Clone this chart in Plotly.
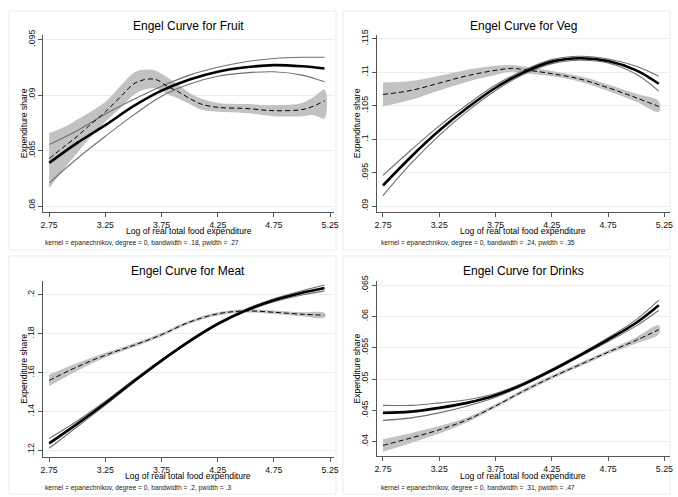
import plotly.graph_objects as go

# ---------------- data ----------------
X_FIT = [2.75, 3.0, 3.25, 3.5, 3.75, 4.0, 4.25, 4.5, 4.75, 5.0, 5.2]
X_TICKS = [2.75, 3.25, 3.75, 4.25, 4.75, 5.25]
X_TICK_TEXT = ["2.75", "3.25", "3.75", "4.25", "4.75", "5.25"]

# Fruit
FRUIT_FIT = [.0839, .0857, .0873, .0890, .0904, .0914, .0921, .0925, .0927, .0926, .0924]
FRUIT_FIT_HI = [.08555, .0868, .0883, .0896, .0908, .0918, .0925, .0930, .0933, .0934, .0934]
FRUIT_FIT_LO = [.0821, .0843, .0863, .0882, .0899, .0910, .0917, .0920, .0921, .0918, .0912]
FRUIT_X_LP = [2.75, 2.9, 3.0, 3.1, 3.25, 3.4, 3.5, 3.6, 3.7, 3.8, 3.9, 4.0, 4.1, 4.25, 4.5, 4.75, 5.0, 5.1, 5.2]
FRUIT_LP = [.0843, .0855, .0863, .0872, .0885, .0900, .0910, .0914, .0914, .0908, .0903, .0897, .0892, .0889, .0888, .0886, .0887, .0890, .0895]
FRUIT_LP_HI = [.0866, .0872, .0878, .0884, .0894, .0910, .0920, .0923, .0922, .0916, .0909, .0902, .0897, .0893, .0892, .0891, .0893, .0898, .0905]
FRUIT_LP_LO = [.0816, .0836, .0848, .0860, .0876, .0890, .0900, .0905, .0906, .0901, .0897, .0892, .0887, .0885, .0884, .0881, .0881, .0882, .0879]
FRUIT_YTICKS = [.08, .085, .09, .095]
FRUIT_YTEXT = [".08", ".085", ".09", ".095"]

# Veg
VEG_FIT = [.0931, .0974, .1013, .1047, .1077, .1100, .1116, .1121, .1117, .1103, .1083]
VEG_FIT_HI = [.0946, .0984, .1020, .1052, .1081, .1103, .1119, .1124, .1120, .1109, .1094]
VEG_FIT_LO = [.0916, .0964, .1006, .1042, .1073, .1097, .1113, .1118, .1114, .1097, .1072]
VEG_X_LP = [2.75, 3.0, 3.25, 3.5, 3.75, 3.9, 4.0, 4.25, 4.5, 4.75, 5.0, 5.2]
VEG_LP = [.1067, .1073, .1084, .1095, .1103, .1106, .1104, .1098, .1090, .1077, .1062, .1049]
VEG_LP_HI = [.1085, .1087, .1095, .1104, .1110, .1111, .1109, .1102, .1094, .1082, .1068, .1057]
VEG_LP_LO = [.1049, .1059, .1073, .1086, .1096, .1101, .1099, .1094, .1086, .1072, .1056, .1041]
VEG_YTICKS = [.09, .095, .1, .105, .11, .115]
VEG_YTEXT = [".09", ".095", ".1", ".105", ".11", ".115"]

# Meat
MEAT_FIT = [.1237, .1337, .1443, .1555, .1662, .1762, .1850, .1920, .1972, .2010, .2035]
MEAT_FIT_HI = [.1262, .1352, .1453, .1562, .1667, .1767, .1855, .1926, .1980, .2021, .2050]
MEAT_FIT_LO = [.1212, .1322, .1433, .1548, .1657, .1757, .1845, .1914, .1964, .1999, .2020]
MEAT_X_LP = [2.75, 3.0, 3.25, 3.5, 3.75, 4.0, 4.25, 4.5, 4.75, 5.0, 5.2]
MEAT_LP = [.1560, .1630, .1690, .1740, .1795, .1860, .1902, .1917, .1910, .1900, .1895]
MEAT_LP_HI = [.1590, .1650, .1702, .1750, .1804, .1868, .1910, .1925, .1919, .1910, .1907]
MEAT_LP_LO = [.1530, .1610, .1678, .1730, .1786, .1852, .1894, .1909, .1901, .1890, .1883]
MEAT_YTICKS = [.12, .14, .16, .18, .2]
MEAT_YTEXT = [".12", ".14", ".16", ".18", ".2"]

# Drinks
DRINKS_FIT = [.0446, .0448, .0454, .0462, .0474, .0492, .0514, .0538, .0563, .0590, .0618]
DRINKS_FIT_HI = [.0458, .0458, .0462, .0467, .0477, .0494, .0516, .0540, .0566, .0595, .0626]
DRINKS_FIT_LO = [.0434, .0438, .0446, .0457, .0471, .0490, .0512, .0536, .0560, .0585, .0610]
DRINKS_X_LP = [2.75, 3.0, 3.25, 3.5, 3.75, 4.0, 4.25, 4.5, 4.75, 5.0, 5.2]
DRINKS_LP = [.0394, .0406, .0419, .0435, .0457, .0481, .0503, .0523, .0543, .0562, .0579]
DRINKS_LP_HI = [.0404, .0414, .0425, .0439, .0460, .0484, .0506, .0526, .0546, .0567, .0586]
DRINKS_LP_LO = [.0384, .0398, .0413, .0431, .0454, .0478, .0500, .0520, .0540, .0557, .0572]
DRINKS_YTICKS = [.04, .045, .05, .055, .06, .065]
DRINKS_YTEXT = [".04", ".045", ".05", ".055", ".06", ".065"]

TITLES = ["Engel Curve for Fruit", "Engel Curve for Veg", "Engel Curve for Meat", "Engel Curve for Drinks"]
NOTES = [
    "kernel = epanechnikov, degree = 0, bandwidth = .18, pwidth = .27",
    "kernel = epanechnikov, degree = 0, bandwidth = .24, pwidth = .35",
    "kernel = epanechnikov, degree = 0, bandwidth = .2, pwidth = .3",
    "kernel = epanechnikov, degree = 0, bandwidth = .31, pwidth = .47",
]
X_TITLE = "Log of real total food expenditure"
Y_TITLE = "Expenditure share"

# ---------------- layout geometry (pixels) ----------------
W, H = 678, 497
FONT = "Arial, Liberation Sans, sans-serif"

panels = [
    dict(data=(X_FIT, FRUIT_FIT, FRUIT_FIT_HI, FRUIT_FIT_LO, FRUIT_X_LP, FRUIT_LP, FRUIT_LP_HI, FRUIT_LP_LO),
         yt=(FRUIT_YTICKS, FRUIT_YTEXT),
         box=(40.7, 335, 29, 209), xr=(2.697, 5.285), yr=(.07944, .09544),
         border=(6, 5, 337, 247), title_y=20, ytitle_x=21, xtitle_y=228, note=(40, 239.5)),
    dict(data=(X_FIT, VEG_FIT, VEG_FIT_HI, VEG_FIT_LO, VEG_X_LP, VEG_LP, VEG_LP_HI, VEG_LP_LO),
         yt=(VEG_YTICKS, VEG_YTEXT),
         box=(378, 675, 29, 209), xr=(2.693, 5.300), yr=(.08907, .11563),
         border=(344, 5, 675, 247), title_y=20, ytitle_x=358, xtitle_y=228, note=(380, 239.5)),
    dict(data=(X_FIT, MEAT_FIT, MEAT_FIT_HI, MEAT_FIT_LO, MEAT_X_LP, MEAT_LP, MEAT_LP_HI, MEAT_LP_LO),
         yt=(MEAT_YTICKS, MEAT_YTEXT),
         box=(40, 335, 278.3, 456.5), xr=(2.691, 5.285), yr=(.1167, .2071),
         border=(6, 253, 337, 494), title_y=268.5, ytitle_x=21, xtitle_y=475.7, note=(40, 487.5)),
    dict(data=(X_FIT, DRINKS_FIT, DRINKS_FIT_HI, DRINKS_FIT_LO, DRINKS_X_LP, DRINKS_LP, DRINKS_LP_HI, DRINKS_LP_LO),
         yt=(DRINKS_YTICKS, DRINKS_YTEXT),
         box=(378, 675, 278.3, 456), xr=(2.693, 5.300), yr=(.03763, .06568),
         border=(344, 253, 675, 494), title_y=268.5, ytitle_x=358, xtitle_y=475.7, note=(380, 487.5)),
]

fig = go.Figure()
annotations = []
shapes = []
layout_axes = {}

for i, p in enumerate(panels):
    n = "" if i == 0 else str(i + 1)
    xa, ya = "x" + n, "y" + n
    xf, fit, fhi, flo, xl, lp, lhi, llo = p["data"]

    # lpoly CI band
    fig.add_trace(go.Scatter(x=list(xl) + list(xl)[::-1], y=list(lhi) + list(llo)[::-1],
                             fill="toself", fillcolor="#c2c2c2", line=dict(width=0, shape="spline"),
                             mode="lines", hoverinfo="skip", showlegend=False, xaxis=xa, yaxis=ya))
    # fit CI lines
    for arr in (fhi, flo):
        fig.add_trace(go.Scatter(x=xf, y=arr, mode="lines",
                                 line=dict(color="#707070", width=1.1, shape="spline"),
                                 showlegend=False, xaxis=xa, yaxis=ya))
    # fitted line
    fig.add_trace(go.Scatter(x=xf, y=fit, mode="lines",
                             line=dict(color="black", width=2.6, shape="spline"),
                             showlegend=False, xaxis=xa, yaxis=ya))
    # lpoly line
    fig.add_trace(go.Scatter(x=xl, y=lp, mode="lines",
                             line=dict(color="black", width=1, dash="5px,3px", shape="spline"),
                             showlegend=False, xaxis=xa, yaxis=ya))

    l, r, t, b = p["box"]
    layout_axes["xaxis" + n] = dict(
        domain=[l / W, r / W], range=list(p["xr"]), anchor=ya,
        showline=True, linecolor="#555555", linewidth=1, mirror=False,
        ticks="outside", ticklen=4, tickcolor="#555555", tickwidth=1,
        tickvals=X_TICKS, ticktext=X_TICK_TEXT,
        tickfont=dict(family=FONT, size=8.8, color="#111111"),
        showgrid=False, zeroline=False, fixedrange=True)
    yv, ytx = p["yt"]
    layout_axes["yaxis" + n] = dict(
        domain=[1 - b / H, 1 - t / H], range=list(p["yr"]), anchor=xa,
        showline=True, linecolor="#555555", linewidth=1, mirror=False,
        ticks="outside", ticklen=4, tickcolor="#555555", tickwidth=1,
        tickvals=yv, ticktext=ytx, tickangle=-90,
        tickfont=dict(family=FONT, size=8.8, color="#111111"),
        showgrid=True, gridcolor="#e5eef0", gridwidth=1, zeroline=False, fixedrange=True)

    cx = (l + r) / 2
    annotations.append(dict(text=TITLES[i], x=cx / W, y=1 - p["title_y"] / H, xref="paper", yref="paper",
                            xanchor="center", yanchor="middle", showarrow=False,
                            font=dict(family=FONT, size=12, color="black")))
    annotations.append(dict(text=X_TITLE, x=cx / W, y=1 - p["xtitle_y"] / H, xref="paper", yref="paper",
                            xanchor="center", yanchor="middle", showarrow=False,
                            font=dict(family=FONT, size=8.6, color="black")))
    annotations.append(dict(text=Y_TITLE, x=p["ytitle_x"] / W, y=1 - ((t + b) / 2) / H, xref="paper", yref="paper",
                            xanchor="center", yanchor="middle", showarrow=False, textangle=-90,
                            font=dict(family=FONT, size=8.6, color="black")))
    nx, ny = p["note"]
    annotations.append(dict(text=NOTES[i], x=nx / W, y=1 - ny / H, xref="paper", yref="paper",
                            xanchor="left", yanchor="middle", showarrow=False,
                            font=dict(family=FONT, size=6.7, color="#222222")))
    bx0, by0, bx1, by1 = p["border"]
    shapes.append(dict(type="rect", xref="paper", yref="paper",
                       x0=bx0 / W, x1=bx1 / W, y0=1 - by1 / H, y1=1 - by0 / H,
                       line=dict(color="#e6ecef", width=1), fillcolor="rgba(0,0,0,0)", layer="below"))

fig.update_layout(
    width=W, height=H, margin=dict(l=0, r=0, t=0, b=0),
    paper_bgcolor="white", plot_bgcolor="white",
    showlegend=False, annotations=annotations, shapes=shapes,
    **layout_axes)

fig.write_html("out.html", config={"displayModeBar": False},
               post_script="document.body.style.margin='0px';document.body.style.padding='0px';")
